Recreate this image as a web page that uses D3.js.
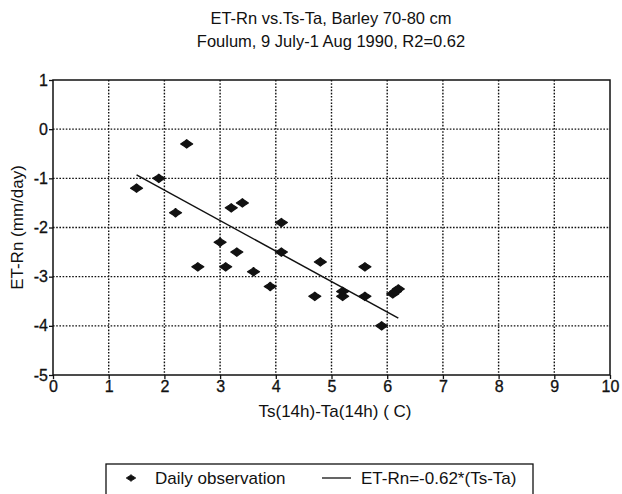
<!DOCTYPE html>
<html>
<head>
<meta charset="utf-8">
<script src="https://cdn.jsdelivr.net/npm/d3@7"></script>
<style>
  body { margin: 0; background: #fff; }
  text { font-family: "Liberation Sans", Arial, sans-serif; fill: #111; }
</style>
</head>
<body>
<div id="chart"></div>
<script>
var xObs = [1.5, 1.9, 2.4, 2.2, 2.6, 3.0, 3.1, 3.2, 3.4, 3.3, 3.6, 3.9, 4.1, 4.1, 4.7, 4.8, 5.2, 5.2, 5.6, 5.6, 5.9, 6.1, 6.15, 6.2];
var yObs = [-1.2, -1.0, -0.3, -1.7, -2.8, -2.3, -2.8, -1.6, -1.5, -2.5, -2.9, -3.2, -1.9, -2.5, -3.4, -2.7, -3.3, -3.4, -2.8, -3.4, -4.0, -3.35, -3.3, -3.25];
// fitted line ET-Rn = -0.62*(Ts-Ta)
var fitSlope = -0.62;
var fitX = [1.5, 6.2];
var xTicks = [0, 1, 2, 3, 4, 5, 6, 7, 8, 9, 10];
var yTicks = [1, 0, -1, -2, -3, -4, -5];
var titleLines = ["ET-Rn vs.Ts-Ta, Barley 70-80 cm", "Foulum, 9 July-1 Aug 1990, R2=0.62"];

var width = 622, height = 494;
var pLeft = 53, pRight = 610, pTop = 80, pBottom = 375;
var ink = "#111";

var svg = d3.select("#chart").append("svg")
  .attr("width", width)
  .attr("height", height);

var x = d3.scaleLinear().domain([0, 10]).range([pLeft, pRight]);
var y = d3.scaleLinear().domain([-5, 1]).range([pBottom, pTop]);

// title
svg.selectAll(".title")
  .data(titleLines)
  .enter().append("text")
  .attr("class", "title")
  .attr("x", 331)
  .attr("y", function (d, i) { return 24 + i * 23; })
  .attr("text-anchor", "middle")
  .attr("font-size", "16.5px")
  .text(function (d) { return d; });

// dotted grid
var grid = svg.append("g")
  .attr("stroke", ink)
  .attr("stroke-width", 1.4)
  .attr("stroke-dasharray", "1.6,1.6");
grid.selectAll(".gx")
  .data(xTicks.slice(1, -1))
  .enter().append("line")
  .attr("x1", function (d) { return x(d); })
  .attr("x2", function (d) { return x(d); })
  .attr("y1", pTop).attr("y2", pBottom);
grid.selectAll(".gy")
  .data(yTicks.slice(1, -1))
  .enter().append("line")
  .attr("y1", function (d) { return y(d); })
  .attr("y2", function (d) { return y(d); })
  .attr("x1", pLeft).attr("x2", pRight);

// axes (plain hyphen for minus, as in the scan)
var fmt = function (d) { return String(d); };
var xAxis = svg.append("g")
  .attr("transform", "translate(0," + pBottom + ")")
  .call(d3.axisBottom(x).tickValues(xTicks).tickSize(4).tickPadding(2).tickFormat(fmt));
var yAxis = svg.append("g")
  .attr("transform", "translate(" + pLeft + ",0)")
  .call(d3.axisLeft(y).tickValues(yTicks).tickSize(4).tickPadding(1).tickFormat(fmt));

[xAxis, yAxis].forEach(function (ax) {
  ax.select(".domain").remove();
  ax.selectAll(".tick line").attr("stroke", ink).attr("stroke-width", 1.3);
  ax.selectAll(".tick text")
    .attr("font-size", "16px")
    .attr("font-family", "Liberation Sans, Arial, sans-serif")
    .attr("fill", ink)
    .attr("stroke", ink)
    .attr("stroke-width", 0.3);
});

// frame
svg.append("rect")
  .attr("x", pLeft).attr("y", pTop)
  .attr("width", pRight - pLeft).attr("height", pBottom - pTop)
  .attr("fill", "none")
  .attr("stroke", ink)
  .attr("stroke-width", 1.5);

// axis titles
svg.append("text")
  .attr("x", 335)
  .attr("y", 417)
  .attr("text-anchor", "middle")
  .attr("font-size", "17px")
  .text("Ts(14h)-Ta(14h) ( C)");
svg.append("text")
  .attr("transform", "translate(23," + (pTop + pBottom) / 2 + ") rotate(-90)")
  .attr("text-anchor", "middle")
  .attr("font-size", "17px")
  .text("ET-Rn (mm/day)");

// fitted line
svg.append("line")
  .attr("x1", x(fitX[0])).attr("y1", y(fitSlope * fitX[0]))
  .attr("x2", x(fitX[1])).attr("y2", y(fitSlope * fitX[1]))
  .attr("stroke", ink)
  .attr("stroke-width", 1.5);

// marker shape: fat diamond, wider than tall
var marker = "M-6,0L-2,-2.6L0,-4.2L2,-2.6L6,0L2,2.6L0,4.2L-2,2.6Z";

svg.selectAll(".obs")
  .data(xObs)
  .enter().append("path")
  .attr("class", "obs")
  .attr("d", marker)
  .attr("transform", function (d, i) { return "translate(" + x(d) + "," + y(yObs[i]) + ")"; })
  .attr("fill", ink)
  .attr("stroke", ink)
  .attr("stroke-width", 1.2)
  .attr("stroke-linejoin", "round");

// legend
var lg = svg.append("g");
lg.append("rect")
  .attr("x", 106).attr("y", 464)
  .attr("width", 427).attr("height", 40)
  .attr("fill", "none")
  .attr("stroke", ink)
  .attr("stroke-width", 1.3);
lg.append("path")
  .attr("d", marker)
  .attr("transform", "translate(131,478) scale(0.8)")
  .attr("fill", ink)
  .attr("stroke", ink)
  .attr("stroke-width", 1);
lg.append("text")
  .attr("x", 155).attr("y", 484)
  .attr("font-size", "17px")
  .text("Daily observation");
lg.append("line")
  .attr("x1", 322).attr("x2", 351)
  .attr("y1", 478).attr("y2", 478)
  .attr("stroke", ink)
  .attr("stroke-width", 1.3);
lg.append("text")
  .attr("x", 361).attr("y", 484)
  .attr("font-size", "17px")
  .text("ET-Rn=-0.62*(Ts-Ta)");
</script>
</body>
</html>
